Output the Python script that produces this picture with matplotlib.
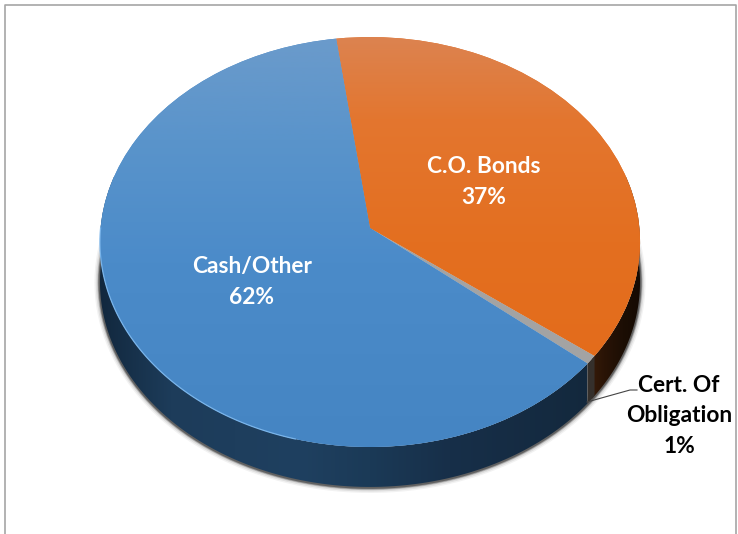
import numpy as np
import matplotlib
matplotlib.use("Agg")
import matplotlib.pyplot as plt
from matplotlib.colors import to_rgb
from matplotlib.patches import PathPatch
from matplotlib.path import Path
from matplotlib.transforms import Transform

# ========== Data ==========
categories = ["C.O. Bonds", "Cert. Of\nObligation", "Cash/Other"]
values = [37.4, 0.7, 61.9]  # grey slice is drawn thinner than its 1% label
pct_labels = ["37%", "1%", "62%"]
top_colors = ["#e36f22", "#a3a3a3", "#4a8ac9"]

# ========== Pie shape, in pixels ==========
cx, tip_y = 370, 228
rx, ry = 269.4, 204
persp = 0.0683
depth = 40
start_angle = 97.7


class Tilt(Transform):
    # unit circle -> disc seen in slight perspective, tip sits above the ellipse middle
    input_dims = output_dims = 2
    is_separable = False
    has_inverse = False

    def transform_non_affine(self, values):
        v = np.asarray(values, dtype=float)
        w = 1 + persp * v[:, 1]
        return np.column_stack([cx + rx * v[:, 0] / w, tip_y - ry * v[:, 1] / w])


def disc_xy(theta_deg):
    t = np.radians(theta_deg)
    pts = Tilt().transform_non_affine(np.column_stack([np.cos(t), np.sin(t)]))
    return pts[:, 0], pts[:, 1]


def wall_path(a0, a1):
    xs, ys = disc_xy(np.linspace(a0, a1, 120))
    verts = np.r_[np.column_stack([xs, ys]), np.column_stack([xs, ys + depth])[::-1]]
    return Path(np.r_[verts, verts[:1]], closed=True)


def fill_gradient(patch, stops, extent, pos=None, horizontal=True, z=2):
    # colour ramp clipped to the patch
    ramp = np.array([to_rgb(c) for c in stops])
    pos = np.linspace(0, 1, len(stops)) if pos is None else pos
    grid = np.linspace(0, 1, 256)
    rgb = np.stack([np.interp(grid, pos, ramp[:, i]) for i in range(3)], axis=-1)
    img = rgb[None, :, :] if horizontal else rgb[:, None, :]
    im = ax.imshow(img, extent=extent, aspect="auto", zorder=z, interpolation="bilinear")
    im.set_clip_path(patch)


# ========== Figure ==========
fig = plt.figure(figsize=(7.38, 5.34), dpi=100)
ax = fig.add_axes([0, 0, 1, 1])

wedges, _ = ax.pie(values, startangle=start_angle, counterclock=False, colors=top_colors, radius=1)
ax.set_aspect("auto")
ax.set_xlim(0, 738)
ax.set_ylim(534, 0)
ax.axis("off")

tilt = Tilt() + ax.transData
for w in wedges:
    w.set_transform(tilt)
    w.set_zorder(4)
    w.set_linewidth(0)

# angles of the slice edges, clockwise from the start
edges = start_angle - np.cumsum([0] + values) * 3.6

# ---- soft shadow under the disc ----
xs, ys = disc_xy(np.linspace(-195, 15, 200))
for grow, a in zip([8, 6, 4, 3, 2], [0.05, 0.08, 0.14, 0.22, 0.35]):
    ax.plot(xs, ys + depth + 0.5, color="black", alpha=a, lw=grow, zorder=1)

# ---- side walls ----
orange_wall = PathPatch(wall_path(15, edges[1] - 1), lw=0, fc="none", zorder=2)
grey_wall = PathPatch(wall_path(edges[1], edges[2]), lw=0, fc="#35302c", zorder=2.2)
blue_wall = PathPatch(wall_path(edges[2], -195), lw=0, fc="none", zorder=2.1)
for p in (orange_wall, grey_wall, blue_wall):
    ax.add_patch(p)
fill_gradient(orange_wall, ["#3c1f0b", "#2a1406", "#1c0e04", "#140a03"], (585, 642, 534, 0))
fill_gradient(blue_wall, ["#12283e", "#1d3c5a", "#1f4060", "#1b3a57", "#172f49", "#13283c"],
              (100, 600, 534, 0), pos=[0, 0.14, 0.4, 0.54, 0.7, 1], z=2.1)

# ---- top faces ----
fill_gradient(wedges[0], ["#dc8350", "#e3762f", "#e46f20", "#e36a18"], (0, 738, 447, 37),
              pos=[0, 0.2, 0.5, 1], horizontal=False, z=5)
fill_gradient(wedges[2], ["#6b9bcb", "#5a94cb", "#4b8bc9", "#4585c3"], (0, 738, 447, 37),
              pos=[0, 0.25, 0.55, 1], horizontal=False, z=5)

# thin light rim on the left front of the blue slice
xs, ys = disc_xy(np.linspace(-105, -180, 120))
ax.plot(xs, ys, color="#79b4ea", lw=0.9, zorder=6)

# ---- labels ----
font = dict(fontsize=16.4, fontweight="bold", family="Lato", ha="center", va="center",
            linespacing=1.53, zorder=8)
ax.text(484, 182, categories[0] + "\n" + pct_labels[0], color="white", **font)
ax.text(252, 282, categories[2] + "\n" + pct_labels[2], color="white", **font)
ax.text(679, 416, categories[1] + "\n" + pct_labels[1], color="black", **font)
ax.plot([587, 630, 637], [402, 390, 390], color="#444444", lw=0.8, zorder=7)

# ---- outer frame ----
ax.plot([4.5, 4.5, 736, 736], [534, 4.5, 4.5, 534], color="#a6a6a6", lw=1.2, zorder=9)

fig.savefig("out.png", dpi=100)
